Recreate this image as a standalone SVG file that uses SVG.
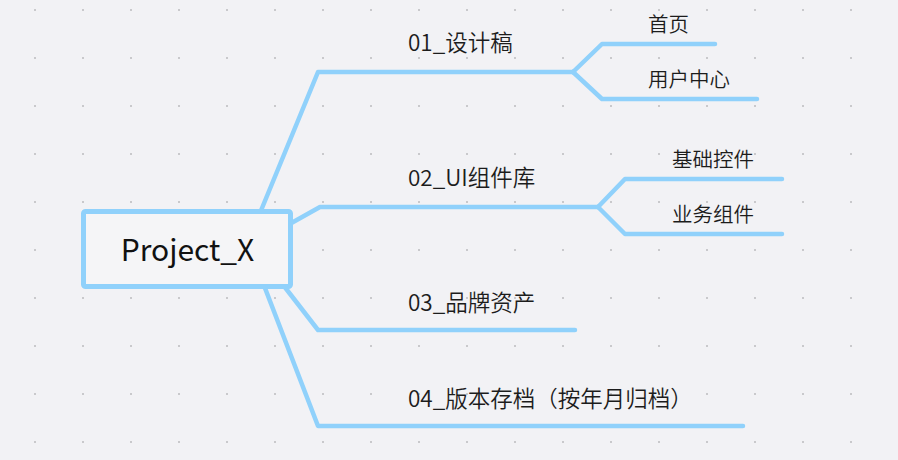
<svg xmlns="http://www.w3.org/2000/svg" width="898" height="460" viewBox="0 0 898 460">
  <defs>
    <pattern id="dots" x="0" y="0" width="48" height="48" patternUnits="userSpaceOnUse">
      <rect x="34" y="9" width="2" height="2" fill="#c9c9cc"/>
    </pattern>
    <style>
      .ln { fill: none; stroke: #90d1fb; stroke-width: 4.5; stroke-linecap: round; stroke-linejoin: round; }
      .t1 { font-family: "Noto Sans CJK SC", "Noto Sans", sans-serif; font-size: 22.5px; font-weight: 350; fill: #1c1c1c; }
      .t2 { font-family: "Noto Sans CJK SC", "Noto Sans", sans-serif; font-size: 20.5px; font-weight: 350; fill: #1c1c1c; }
      .root { font-family: "Noto Sans CJK SC", "Noto Sans", sans-serif; font-size: 30px; fill: #111111; }
    </style>
  </defs>
  <rect width="898" height="460" fill="#f2f2f5"/>
  <rect width="898" height="460" fill="url(#dots)"/>

  <g id="connectors">
    <polyline class="ln" points="253,230 318,72 573,72"/>
    <polyline class="ln" points="573,72 602,44 715,44"/>
    <polyline class="ln" points="573,72 602,99 757,99"/>
    <polyline class="ln" points="270,235 320,207 598,207"/>
    <polyline class="ln" points="598,207 625,179 782,179"/>
    <polyline class="ln" points="598,207 625,234 782,234"/>
    <polyline class="ln" points="270,268 318,330 575,330"/>
    <polyline class="ln" points="255,262 318,426 743,426"/>
  </g>

  <g id="root">
    <rect x="83.5" y="211.5" width="207" height="75" rx="2" fill="#f5f5f7" stroke="#90d1fb" stroke-width="5"/>
    <text class="root" x="187.5" y="261" text-anchor="middle">Project_X</text>
  </g>

  <g id="n01"><text class="t1" x="408" y="51">01_设计稿</text></g>
  <g id="n01a"><text class="t2" x="648" y="32">首页</text></g>
  <g id="n01b"><text class="t2" x="648" y="87">用户中心</text></g>
  <g id="n02"><text class="t1" x="408" y="186">02_UI组件库</text></g>
  <g id="n02a"><text class="t2" x="672" y="167">基础控件</text></g>
  <g id="n02b"><text class="t2" x="672" y="222">业务组件</text></g>
  <g id="n03"><text class="t1" x="408" y="311">03_品牌资产</text></g>
  <g id="n04"><text class="t1" x="408" y="407">04_版本存档（按年月归档）</text></g>
</svg>
